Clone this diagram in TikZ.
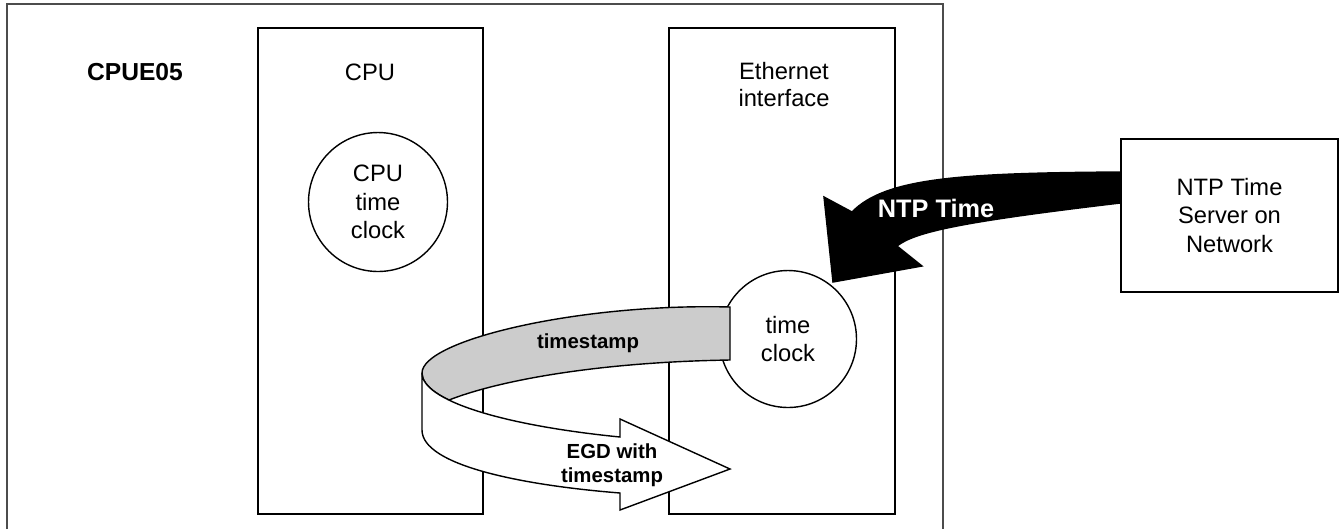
\documentclass[tikz,border=0pt]{standalone}
\usepackage{fontspec}
\setmainfont{Liberation Sans}
\usetikzlibrary{positioning}

\begin{document}
\begin{tikzpicture}[x=0.02cm, y=-0.02cm, line width=0.8pt,
    box/.style={draw, rectangle, inner sep=0pt},
    clock/.style={draw, circle, fill=white, inner sep=0pt, align=center,
      font=\fontsize{13.5}{16.4}\selectfont},
    lbl/.style={align=center, font=\fontsize{13.5}{16.4}\selectfont},
    tag/.style={align=center, font=\bfseries\fontsize{11.6}{13.7}\selectfont}]
  \useasboundingbox (0,0) rectangle (1342,529);

  % Frame
  \draw[line width=0.6pt, black!70] (7,529) -- (7,4) -- (943,4) -- (943,529);
  \node[font=\bfseries\fontsize{14}{17}\selectfont] (unit) at (135,72) {CPUE05};

  % Modules
  \node[box, minimum width=4.5cm, minimum height=9.72cm] (cpu) at (370.5,271) {};
  \node[box, minimum width=4.52cm, minimum height=9.72cm] (eth) at (782,271) {};
  \node[lbl] (cpuname) at (370,72) {CPU};
  \node[lbl, font=\fontsize{13.5}{15}\selectfont] (ethname) at (784,84.5) {Ethernet\\interface};

  % Clocks
  \node[clock, minimum size=2.78cm] (cpuclk) at (378,202) {CPU\\time\\clock};
  \node[clock, minimum size=2.74cm] (ethclk) at (788,339) {time\\clock};

  % Server
  \node[box, lbl, minimum width=4.34cm, minimum height=3.06cm] (ntp) at (1229.5,215.5)
    {NTP Time\\Server on\\Network};

  % Timestamp ribbon
  \draw[fill=black!20] (730,307) .. controls (580,303) and (422,340) .. (422,373)
    .. controls (422,382.5) and (431.6,391.7) .. (449,400)
    .. controls (500,380) and (600,362) .. (730,360) -- cycle;
  \draw[fill=white] (422,373) -- (422,430) .. controls (422,465) and (520,485) .. (620,493)
    -- (620,510) -- (730,469) -- (620,419) -- (620,437)
    .. controls (500,425) and (422,400) .. (422,373) -- cycle;
  \node[tag] (stamp) at (588,343) {timestamp};
  \node[tag] (egd) at (612,465) {EGD with\\timestamp};

  % NTP arrow
  \draw[fill=black] (ntp.west |- 0,172) .. controls (960,173) and (885,178) .. (852,212)
    -- (824,197) -- (833,282) -- (922,266) -- (897,246)
    .. controls (915,232) and (960,222) .. (ntp.west |- 0,203) -- cycle;
  \node[tag, white, font=\bfseries\fontsize{14.4}{17}\selectfont] (ntptime) at (936,208) {NTP Time};
\end{tikzpicture}
\end{document}
